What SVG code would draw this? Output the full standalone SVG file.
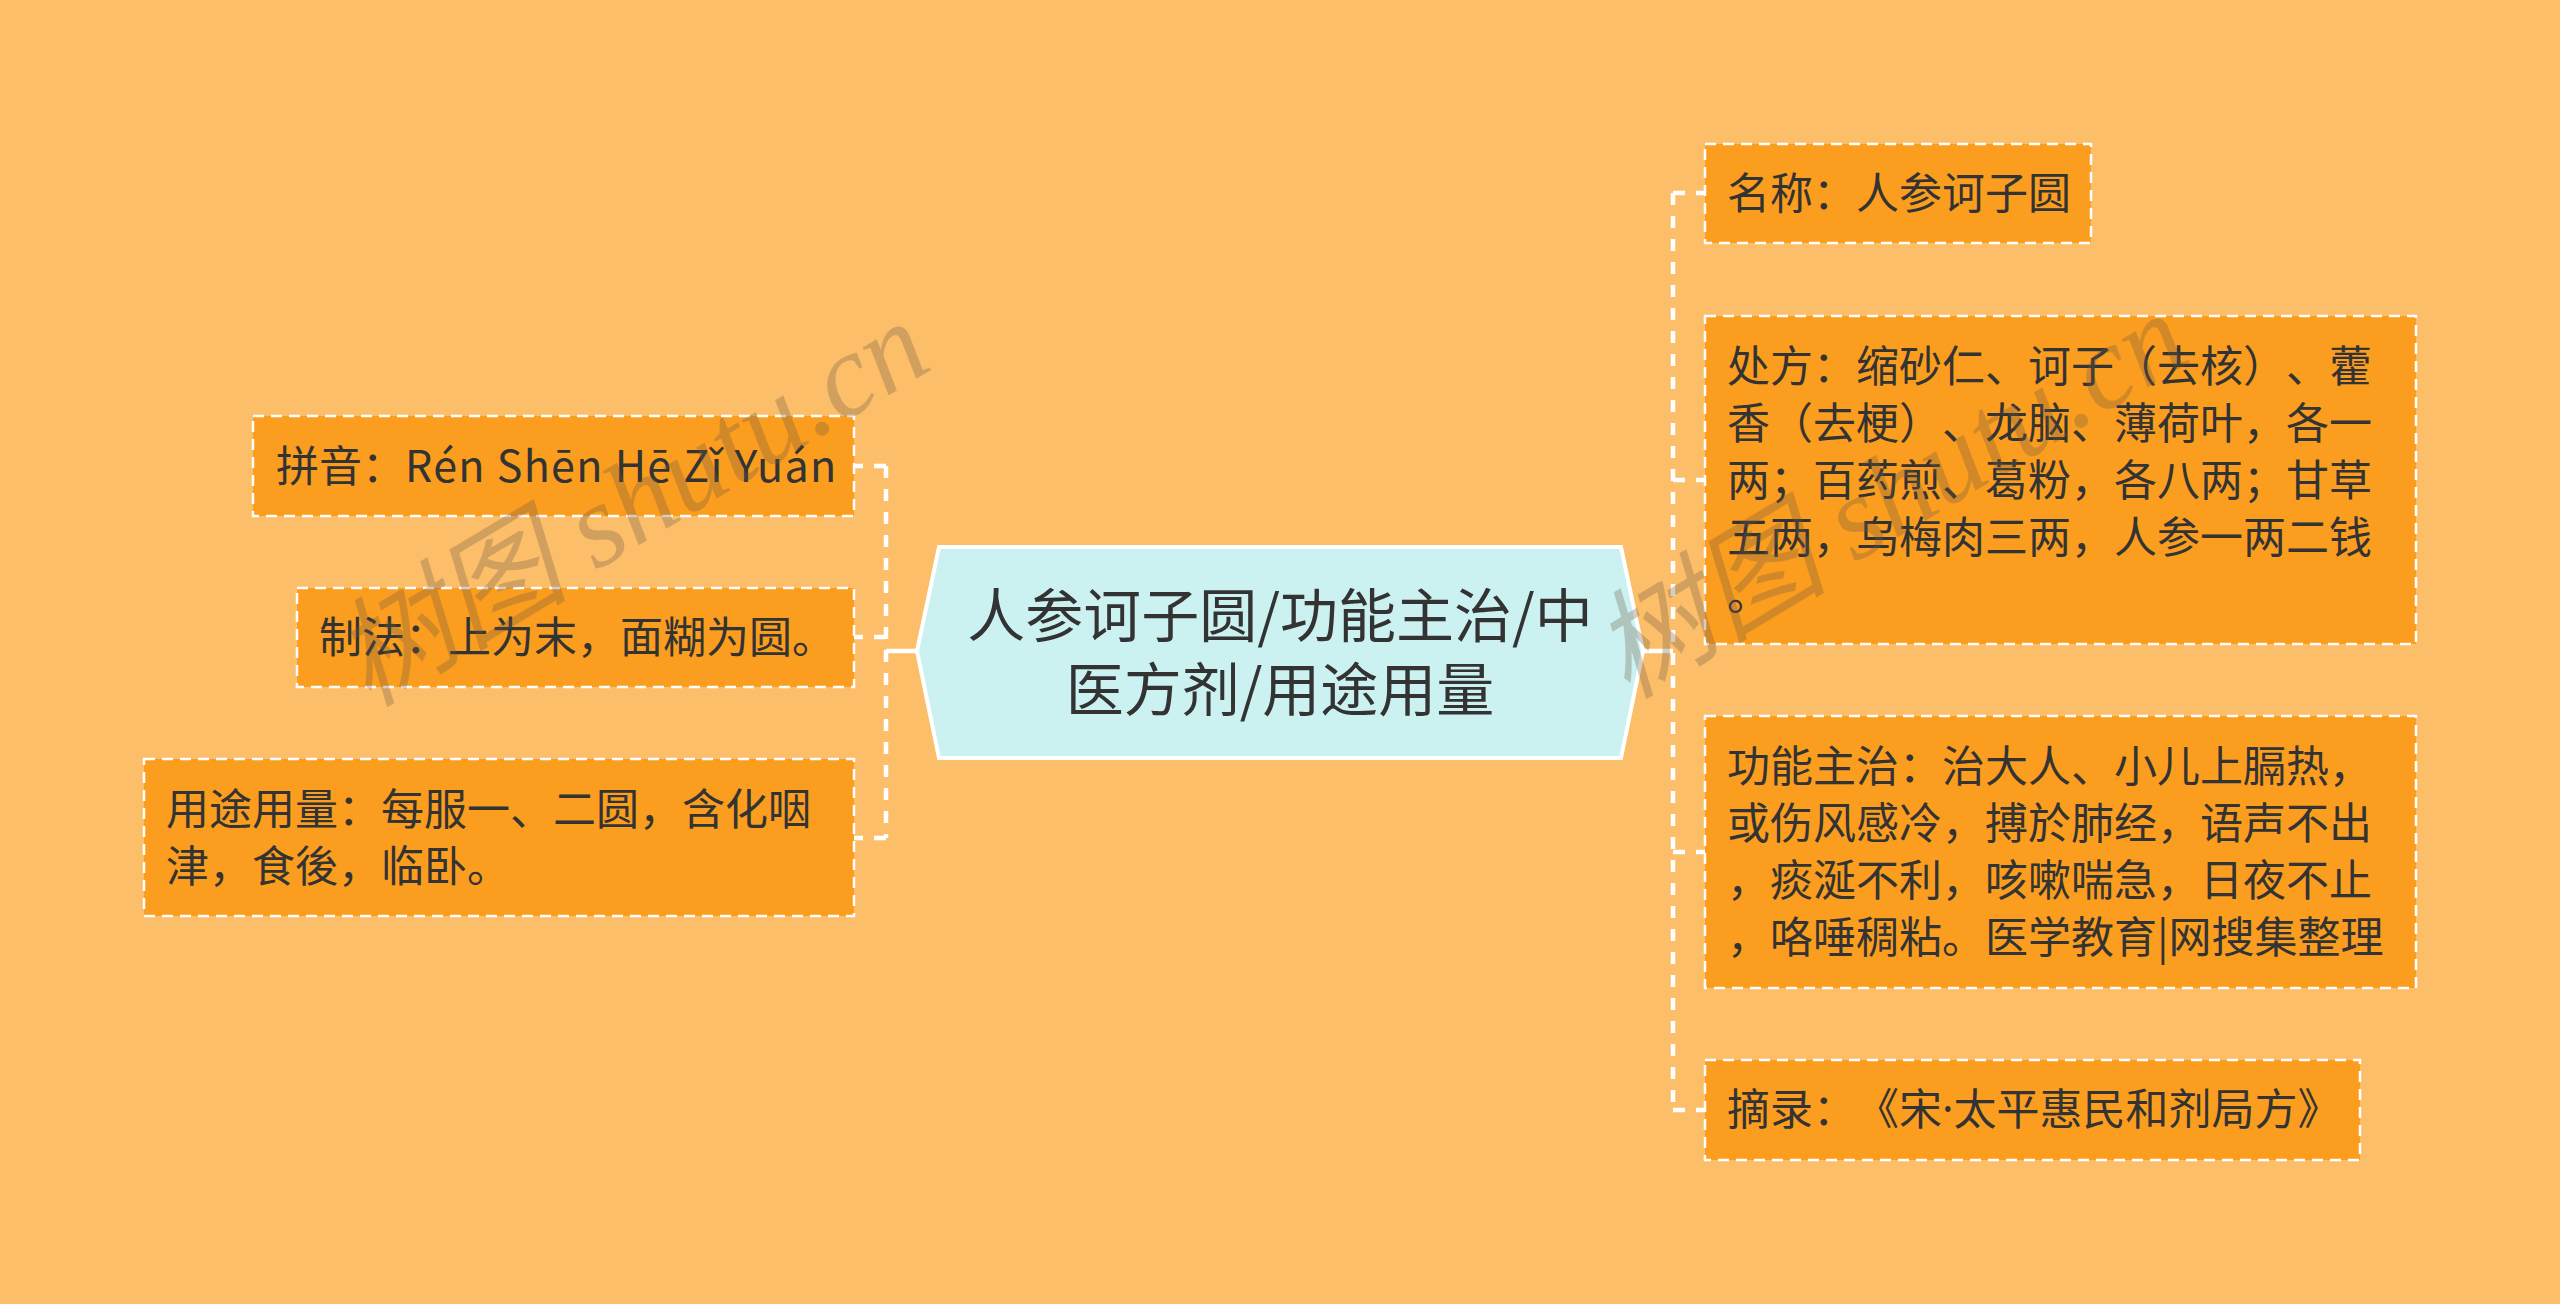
<svg xmlns="http://www.w3.org/2000/svg" width="2560" height="1304" viewBox="0 0 2560 1304">
<style>
.bg{fill:#FDBE69}
.box{fill:#FB9D1E;stroke:#FFFFFF;stroke-width:2.5;stroke-dasharray:11 7}
.t{font-family:"Noto Sans CJK SC","Noto Sans",sans-serif;font-size:43px;fill:#333333;text-spacing-trim:space-all}
.ct{font-family:"Noto Sans CJK SC","Noto Sans",sans-serif;font-size:58px;fill:#333333;text-anchor:middle;text-spacing-trim:space-all}
.lat{letter-spacing:1.3px}
.dot{font-family:"Noto Sans",sans-serif}
.solid{fill:none;stroke:#FFFFFF;stroke-width:4.5}
.dash{fill:none;stroke:#FFFFFF;stroke-width:4.5;stroke-dasharray:12 11}
.wm{font-family:"Liberation Serif","Noto Sans CJK SC",serif;font-style:italic;font-size:118px;fill:#6e5a46;fill-opacity:0.3}
</style>
<rect class="bg" x="0" y="0" width="2560" height="1304"/>
<g id="connectors">
<path class="solid" d="M917,651 H886"/>
<path class="dash" d="M886,466 V838"/>
<path class="dash" d="M886,466 H854"/>
<path class="dash" d="M886,637 H854"/>
<path class="dash" d="M886,838 H854"/>
<path class="solid" d="M1644,651 H1673"/>
<path class="dash" d="M1673,193 V1110"/>
<path class="dash" d="M1673,193 H1705"/>
<path class="dash" d="M1673,480 H1705"/>
<path class="dash" d="M1673,852 H1705"/>
<path class="dash" d="M1673,1110 H1705"/>
</g>
<g id="center">
<polygon points="917,651 939,547 1621,547 1643,651 1621,758 939,758" fill="#CBF2F0" stroke="#FFFFFF" stroke-width="4"/>
<text class="ct" x="1280" y="637">人参诃子圆/功能主治/中</text>
<text class="ct" x="1280" y="711">医方剂/用途用量</text>
</g>
<g id="node-pinyin">
<rect class="box" x="253" y="416" width="601" height="100"/>
<text class="t" x="276" y="482">拼音：<tspan class="lat">Rén Shēn Hē Zǐ Yuán</tspan></text>
</g>
<g id="node-zhifa">
<rect class="box" x="297" y="588" width="557" height="99"/>
<text class="t" x="319" y="653">制法：上为末，面糊为圆。</text>
</g>
<g id="node-yongtu">
<rect class="box" x="144" y="759" width="710" height="157"/>
<text class="t" x="166" y="825">用途用量：每服一、二圆，含化咽</text>
<text class="t" x="166" y="882">津，食後，临卧。</text>
</g>
<g id="node-mingcheng">
<rect class="box" x="1705" y="144" width="386" height="99"/>
<text class="t" x="1727" y="209">名称：人参诃子圆</text>
</g>
<g id="node-chufang">
<rect class="box" x="1705" y="316" width="711" height="328"/>
<text class="t" x="1727" y="382">处方：缩砂仁、诃子（去核）、藿</text>
<text class="t" x="1727" y="439">香（去梗）、龙脑、薄荷叶，各一</text>
<text class="t" x="1727" y="496">两；百药煎、葛粉，各八两；甘草</text>
<text class="t" x="1727" y="553">五两，乌梅肉三两，人参一两二钱</text>
<text class="t" x="1727" y="610">。</text>
</g>
<g id="node-gongneng">
<rect class="box" x="1705" y="716" width="711" height="272"/>
<text class="t" x="1727" y="782">功能主治：治大人、小儿上膈热，</text>
<text class="t" x="1727" y="839">或伤风感冷，搏於肺经，语声不出</text>
<text class="t" x="1727" y="896">，痰涎不利，咳嗽喘急，日夜不止</text>
<text class="t" x="1727" y="953">，咯唾稠粘。医学教育|网搜集整理</text>
</g>
<g id="node-zhailu">
<rect class="box" x="1705" y="1060" width="655" height="100"/>
<text class="t" x="1727" y="1125">摘录：《宋<tspan class="dot">·</tspan>太平惠民和剂局方》</text>
</g>
<g id="watermarks">
<text class="wm" x="368" y="708" transform="rotate(-31 368 708)">树图 shutu.cn</text>
<text class="wm" x="1627" y="700" transform="rotate(-31 1627 700)">树图 shutu.cn</text>
</g>
</svg>
